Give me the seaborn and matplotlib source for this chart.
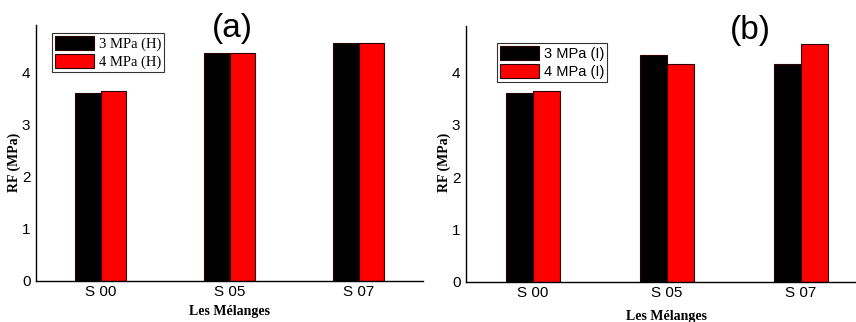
import matplotlib
matplotlib.use("Agg")
import matplotlib.pyplot as plt
from matplotlib.ticker import MultipleLocator, FixedLocator
import seaborn as sns
import pandas as pd

categories = ["S 00", "S 05", "S 07"]
a_series = ["3 MPa (H)", "4 MPa (H)"]
a_3mpa = [3.61, 4.39, 4.58]
a_4mpa = [3.65, 4.38, 4.57]
b_series = ["3 MPa (I)", "4 MPa (I)"]
b_3mpa = [3.60, 4.33, 4.16]
b_4mpa = [3.65, 4.17, 4.54]
yticks = [0, 1, 2, 3, 4]

sns.set_theme(style="white")
plt.rcParams['font.family'] = ['Liberation Sans', 'DejaVu Sans']
plt.rcParams['text.color'] = 'black'
plt.rcParams['axes.labelcolor'] = 'black'
plt.rcParams['xtick.labelcolor'] = 'black'
plt.rcParams['ytick.labelcolor'] = 'black'

fig = plt.figure(figsize=(8.56, 3.22), dpi=100)
ax_a = fig.add_axes([36/856, 1-281/322, 387/856, 256/322])
ax_b = fig.add_axes([466/856, 1-281.7/322, 402/856, 255.7/322])

def panel(ax, s3, s4, names, ymax, title, tx, ty, legfont, legloc):
    df = pd.DataFrame({
        "cat": categories * 2,
        "val": s3 + s4,
        "ser": [names[0]] * 3 + [names[1]] * 3,
    })
    sns.barplot(data=df, x="cat", y="val", hue="ser", hue_order=names,
                palette=["#000000", "#ff0000"], width=0.4, ax=ax,
                edgecolor="#2a0000", linewidth=0.8, saturation=1)
    ax.set_xlim(-0.5, 2.5)
    ax.set_ylim(0, ymax)
    ax.set_yticks(yticks)
    ax.yaxis.set_minor_locator(MultipleLocator(0.5))
    ax.xaxis.set_minor_locator(FixedLocator([0.5, 1.5]))
    ax.tick_params(axis="both", which="both", direction="in", length=2,
                   color="#999999", labelsize=11, pad=3, labelcolor="black")
    ax.tick_params(axis="y", pad=4)
    for s in ["top", "right"]:
        ax.spines[s].set_visible(False)
    for s in ["left", "bottom"]:
        ax.spines[s].set_color("black")
        ax.spines[s].set_linewidth(1.0)
    ax.set_ylabel("RF (MPa)", family="Liberation Serif", fontweight="bold",
                  fontsize=10, labelpad=1, color="black")
    ax.yaxis.label.set_position((0, 0.465))
    ax.set_xlabel("Les Mélanges", family="Liberation Serif", fontweight="bold",
                  fontsize=10, labelpad=4, color="black")
    fig.text(tx, ty, title, fontsize=24, ha="center", va="center", color="black")
    leg = ax.legend(loc="upper left", bbox_to_anchor=legloc, frameon=True,
                    fancybox=False, edgecolor="black", handlelength=2.7,
                    handleheight=1.1, handletextpad=0.3, borderpad=0.2,
                    labelspacing=0.2, borderaxespad=0,
                    prop={"family": legfont, "size": 10.5})
    for t in leg.get_texts():
        t.set_color("black")
    leg.get_frame().set_linewidth(0.8)

panel(ax_a, a_3mpa, a_4mpa, a_series, 4.92, "(a)", 232/856, 1-29/322,
      "Liberation Serif", (16/387, 1-8/256))
panel(ax_b, b_3mpa, b_4mpa, b_series, 4.89, "(b)", 750/856, 1-31/322,
      "Liberation Sans", (31/402, 1-17/256))
ax_b.xaxis.label.set_position(((666-466)/402, 0))
ax_b.xaxis.labelpad = 7.5

fig.savefig("out.png", dpi=100)
